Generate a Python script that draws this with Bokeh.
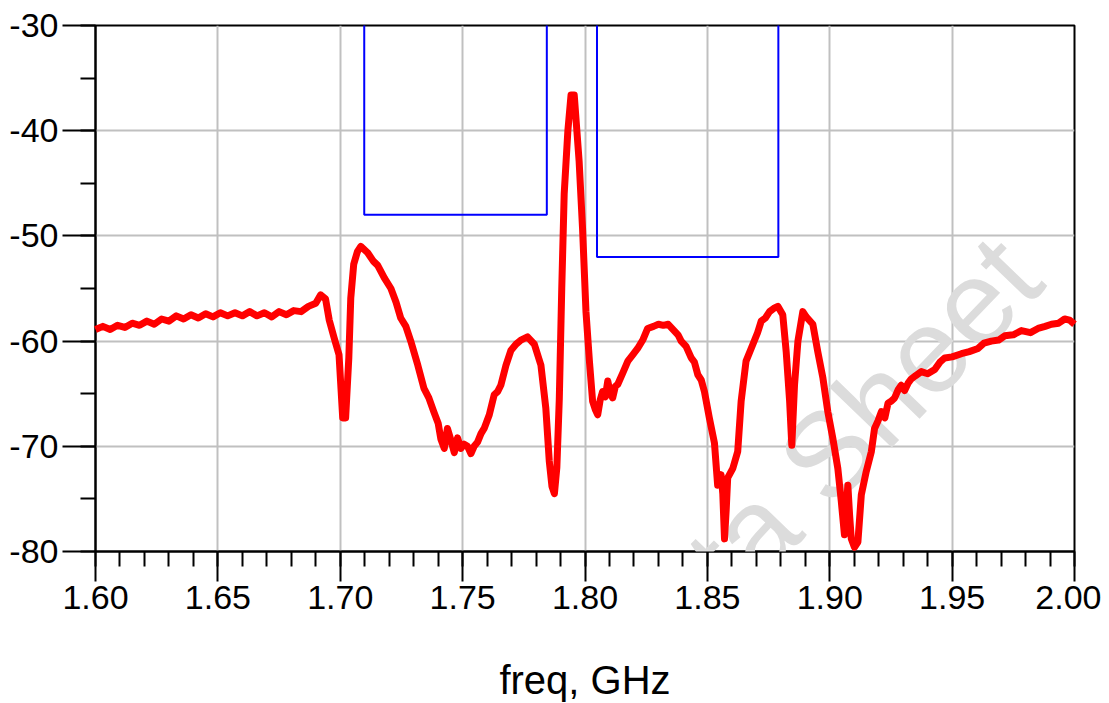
from bokeh.plotting import figure
from bokeh.models import SingleIntervalTicker, Range1d, Label, NumeralTickFormatter
from bokeh.embed import file_html
from bokeh.resources import INLINE

# ---- data: measured trace (freq in GHz, level in dB) ----
freq = [
    1.600, 1.603, 1.606, 1.609, 1.612, 1.615, 1.618, 1.621, 1.624, 1.627,
    1.630, 1.633, 1.636, 1.639, 1.642, 1.645, 1.648, 1.651, 1.654, 1.657,
    1.660, 1.663, 1.666, 1.669, 1.672, 1.675, 1.678, 1.681, 1.684, 1.687,
    1.690, 1.692, 1.694, 1.6955, 1.6975, 1.6995, 1.701, 1.7022, 1.7035, 1.7043,
    1.7055, 1.707, 1.7084, 1.7112, 1.7135, 1.7153, 1.718, 1.7207, 1.7228, 1.7247,
    1.7268, 1.7288, 1.7317, 1.7342, 1.7362, 1.7382, 1.7400, 1.7411, 1.7425, 1.7438,
    1.7452, 1.7466, 1.7479, 1.7493, 1.7506, 1.7520, 1.7534, 1.7547, 1.7561, 1.7575,
    1.7588, 1.7609, 1.7629, 1.7643, 1.7656, 1.7677, 1.7697, 1.7718, 1.7738, 1.7765,
    1.7793, 1.7820, 1.7840, 1.7854, 1.7865, 1.7875, 1.7885, 1.7895, 1.7905, 1.7915,
    1.7930, 1.7943, 1.7956, 1.7976, 1.7990, 1.8004, 1.8018, 1.8031, 1.8042, 1.8052,
    1.8062, 1.8072, 1.8083, 1.8093, 1.8103, 1.8113, 1.8124, 1.8134, 1.8155, 1.8175,
    1.8195, 1.8215, 1.8236, 1.8256, 1.8280, 1.8300, 1.8320, 1.8340, 1.8360, 1.8380,
    1.8393, 1.8413, 1.8434, 1.8447, 1.8461, 1.8475, 1.8488, 1.8508, 1.8529, 1.8542,
    1.8556, 1.8563, 1.8570, 1.8577, 1.8583, 1.8604, 1.8624, 1.8638, 1.8658, 1.8686,
    1.8705, 1.8720, 1.8737, 1.8754, 1.8771, 1.8788, 1.8808, 1.8822, 1.8836, 1.8845,
    1.8856, 1.8870, 1.8890, 1.8904, 1.8931, 1.8951, 1.8972, 1.8992, 1.9013, 1.9033,
    1.9047, 1.9060, 1.9067, 1.9074, 1.9081, 1.9088, 1.9101, 1.9115, 1.9129, 1.9149,
    1.9170, 1.9183, 1.9197, 1.9211, 1.9225, 1.9238, 1.9252, 1.9265, 1.9280, 1.9292,
    1.9306, 1.9320, 1.9333, 1.9350, 1.9374, 1.9400, 1.9429, 1.9450, 1.9470, 1.9500,
    1.9538, 1.9570, 1.9606, 1.9630, 1.9660, 1.9690, 1.9715, 1.9750, 1.9783, 1.9820,
    1.9851, 1.9880, 1.9906, 1.9935, 1.9960, 1.9980, 2.000,
]
level_db = [
    -58.9, -58.6, -58.9, -58.5, -58.7, -58.3, -58.5, -58.1, -58.4, -57.9,
    -58.1, -57.6, -57.9, -57.5, -57.8, -57.4, -57.7, -57.3, -57.6, -57.3,
    -57.6, -57.2, -57.6, -57.3, -57.7, -57.2, -57.5, -57.1, -57.2, -56.7,
    -56.4, -55.6, -56.0, -58.0, -59.7, -61.3, -67.3, -67.3, -61.6, -55.9,
    -52.7, -51.5, -51.0, -51.6, -52.4, -52.8, -54.0, -55.0, -56.3, -57.8,
    -58.6, -60.0, -62.3, -64.5, -65.4, -66.7, -67.8, -69.3, -70.2, -68.3,
    -69.4, -70.6, -69.2, -70.2, -69.8, -70.0, -70.7, -70.0, -69.6, -68.8,
    -68.3, -67.0, -65.1, -64.8, -64.2, -62.3, -60.9, -60.3, -59.9, -59.6,
    -60.3, -62.3, -66.4, -71.4, -73.8, -74.5, -72.0, -65.5, -55.0, -46.0,
    -40.0, -36.6, -36.6, -42.9, -49.3, -57.2, -61.9, -65.7, -66.5, -67.0,
    -65.6, -64.8, -65.3, -63.8, -64.9, -65.4, -64.3, -64.1, -63.0, -61.9,
    -61.3, -60.7, -59.9, -58.8, -58.6, -58.4, -58.5, -58.4, -58.9, -59.4,
    -60.0, -60.5, -61.6, -62.0, -63.2, -63.7, -64.8, -67.3, -69.7, -73.7,
    -72.7, -74.5, -78.8, -76.0, -73.0, -72.1, -70.5, -65.7, -61.9, -60.3,
    -59.2, -58.1, -57.8, -57.2, -56.9, -56.7, -57.5, -61.0, -65.7, -69.9,
    -64.2, -60.0, -57.2, -57.7, -58.4, -61.0, -63.5, -66.7, -69.3, -72.1,
    -75.2, -78.4, -76.0, -73.7, -76.5, -78.8, -79.6, -79.1, -74.6, -72.4,
    -70.5, -68.3, -67.6, -66.7, -67.3, -65.9, -65.7, -65.4, -64.6, -64.2,
    -64.7, -64.0, -63.6, -63.3, -62.9, -63.1, -62.7, -62.0, -61.6, -61.5,
    -61.2, -61.0, -60.7, -60.2, -60.0, -59.9, -59.5, -59.4, -59.0, -59.2,
    -58.8, -58.6, -58.4, -58.3, -57.9, -58.0, -58.4,
]

# ---- spec masks ----
mask1_freq = [1.7098, 1.7098, 1.7844, 1.7844]
mask1_db = [-30, -48, -48, -30]
mask2_freq = [1.8049, 1.8049, 1.8790, 1.8790]
mask2_db = [-30, -52, -52, -30]

x_ticks_interval = 0.05
y_ticks_interval = 10
x_label = "freq, GHz"
watermark = "Data Sheet"

FONT = "Liberation Sans"

p = figure(
    frame_width=979, frame_height=526,
    min_border_left=95, min_border_top=25, min_border_right=27, min_border_bottom=143,
    x_range=Range1d(1.60, 2.00), y_range=Range1d(-80, -30),
    output_backend="svg", toolbar_location=None,
    background_fill_color="white", border_fill_color="white",
)

p.outline_line_color = "black"
p.outline_line_width = 2

# watermark (drawn below the traces)
p.add_layout(Label(
    x=1.8065, y=-93.0, text=watermark, angle=46, angle_units="deg",
    text_font=FONT, text_font_size="120px", text_color="#dcdcdc",
    text_align="left", text_baseline="alphabetic", level="annotation",
))

r_trace = p.line(freq, level_db, line_color="#ff0000", line_width=7, line_join="round")
r_m1 = p.line(mask1_freq, mask1_db, line_color="#0000ff", line_width=2)
r_m2 = p.line(mask2_freq, mask2_db, line_color="#0000ff", line_width=2)
for r in (r_trace, r_m1, r_m2):
    r.level = "overlay"

xt = SingleIntervalTicker(interval=x_ticks_interval, num_minor_ticks=5)
yt = SingleIntervalTicker(interval=y_ticks_interval, num_minor_ticks=2)
p.xaxis.ticker = xt
p.yaxis.ticker = yt
p.xgrid.ticker = xt
p.ygrid.ticker = yt
p.xaxis.formatter = NumeralTickFormatter(format="0.00")
p.yaxis.formatter = NumeralTickFormatter(format="0")

for g in (p.xgrid, p.ygrid):
    g.grid_line_color = "#c0c0c0"
    g.grid_line_width = 2

for ax in (p.xaxis, p.yaxis):
    ax.axis_line_color = "black"
    ax.axis_line_width = 2
    ax.major_tick_line_color = "black"
    ax.major_tick_line_width = 2
    ax.minor_tick_line_color = "black"
    ax.minor_tick_line_width = 2
    ax.major_tick_in = 0
    ax.minor_tick_in = 0
    ax.major_label_text_font = FONT
    ax.major_label_text_font_size = "34px"
    ax.major_label_text_color = "black"

p.xaxis.major_tick_out = 30
p.xaxis.minor_tick_out = 15
p.yaxis.major_tick_out = 33
p.yaxis.minor_tick_out = 15
p.xaxis.major_label_standoff = 4
p.yaxis.major_label_standoff = 4

p.xaxis.axis_label = x_label
p.xaxis.axis_label_text_font = FONT
p.xaxis.axis_label_text_font_size = "40px"
p.xaxis.axis_label_text_font_style = "normal"
p.xaxis.axis_label_text_color = "black"
p.xaxis.axis_label_standoff = 46

open("out.html", "w").write(file_html(p, INLINE))
